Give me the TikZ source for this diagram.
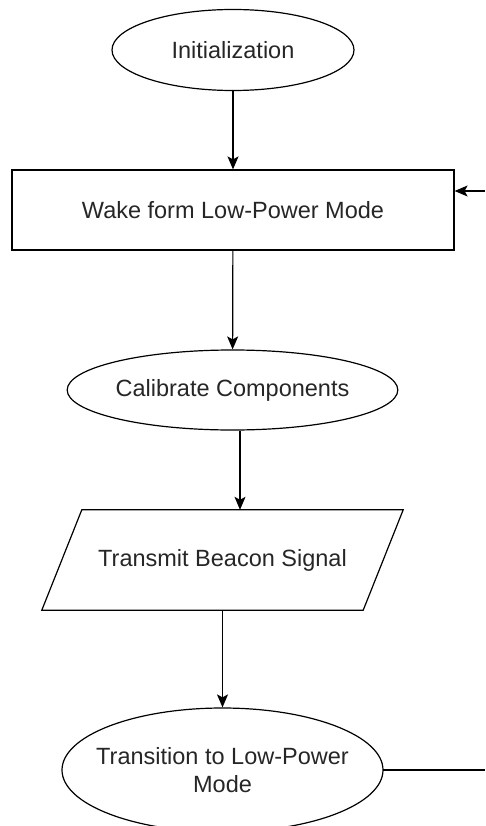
\documentclass[tikz,border=0pt]{standalone}
\usepackage{fontspec}
\setmainfont{Liberation Sans}
\usepackage{tikz}
\usetikzlibrary{shapes,arrows.meta,positioning}

\begin{document}
\begin{tikzpicture}[x=1pt, y=-1pt,
    font=\fontsize{23.5}{28}\selectfont,
    terminal/.style={ellipse, draw, line width=1.2pt, inner sep=0pt, text=black!85},
    process/.style={rectangle, draw, line width=1.2pt, inner sep=0pt, text=black!85},
    flow/.style={line width=1.2pt, -{Stealth[length=13pt, width=11pt, inset=3pt]}}]
    \useasboundingbox (0,0) rectangle (485,826);
    \clip (0,0) rectangle (485,826);

    \node (init) at (233, 50) [terminal, minimum width=242pt, minimum height=81pt] {Initialization};
    \node (wake) at (233, 210) [process, minimum width=442pt, minimum height=80pt] {Wake form Low-Power Mode};
    \node (calib) at (232.5, 390) [terminal, minimum width=301pt, minimum height=80pt] {Calibrate Components};
    \node (beacon) at (222.5, 560) [rectangle, inner sep=0pt, text=black!85, minimum width=321pt, minimum height=100pt] {Transmit Beacon Signal};
    \node (sleep) at (222.5, 770) [terminal, draw=none, align=center, inner xsep=-14pt, minimum width=321pt, minimum height=124pt] {Transition to Low-Power\\Mode};

    % slanted box round the beacon text
    \draw[line width=1.2pt] ([xshift=20pt]beacon.north west) -- ([xshift=20pt]beacon.north east)
        -- ([xshift=-20pt]beacon.south east) -- ([xshift=-20pt]beacon.south west) -- cycle;
    % oval round the last step, narrower than its text box allows
    \draw[line width=1.2pt] (sleep.center) ellipse [x radius=160.5pt, y radius=62pt];

    \coordinate (loopout) at (485, 770);
    \coordinate (loopin) at (485, 191);

    \draw[flow] (init) -- (wake);
    \draw[flow] (wake) -- (calib);
    \draw[flow] ([xshift=7.5pt]calib.south) -- ([xshift=7.5pt]calib.south |- beacon.north);
    \draw[flow] (beacon) -- (sleep.north);
    \draw[line width=1.2pt] ([xshift=160.5pt]sleep.center) -- (loopout);
    \draw[flow] (loopin) -- (loopin -| wake.east);
\end{tikzpicture}
\end{document}
